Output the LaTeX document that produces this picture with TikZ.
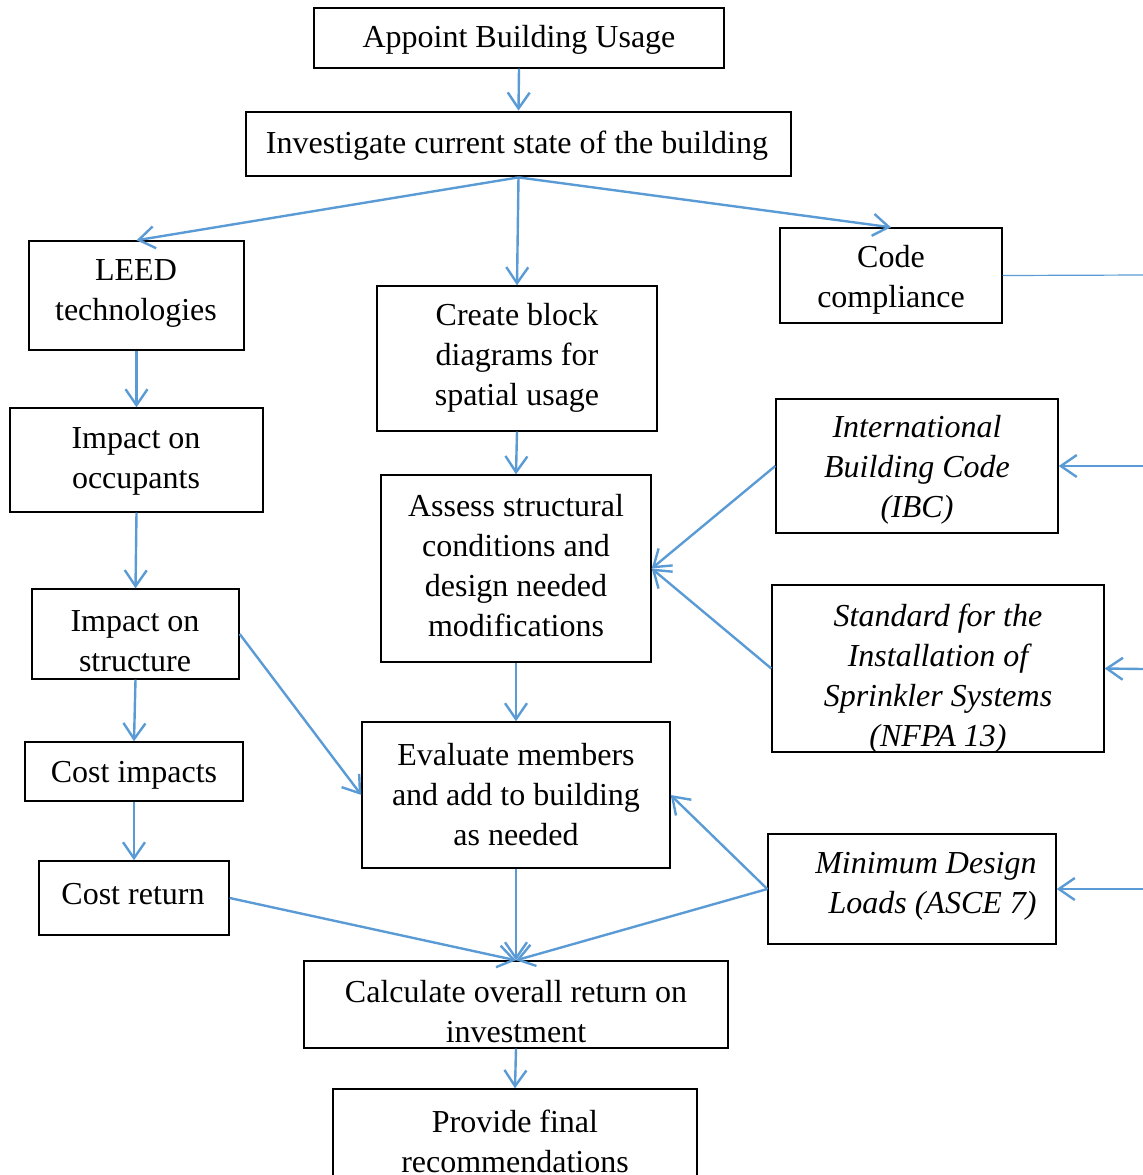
\documentclass[tikz,border=0pt]{standalone}
\usepackage{fontspec}
\setmainfont{Liberation Serif}
\usetikzlibrary{arrows.meta}
\definecolor{arrblue}{HTML}{5B9BD5}
\tikzset{
  box/.style={draw=black, line width=0.7pt, inner sep=0pt},
  txt/.style={inner sep=0pt, align=center, font=\fontsize{16}{20}\selectfont},
  itxt/.style={txt, font=\fontsize{16}{20}\selectfont\itshape},
  arr/.style={draw=arrblue, line width=1.2pt, -{Straight Barb[length=8pt,width=11pt,line width=1.2pt]}},
  thinline/.style={draw=arrblue, line width=0.6pt}
}
\begin{document}
\begin{tikzpicture}[x=0.5pt,y=-0.5pt]
\useasboundingbox (0,0) rectangle (1143,1175);
\clip (0,0) rectangle (1143,1175);
% boxes
\node[box, minimum width=205pt, minimum height=30pt] (appoint) at (519,38) {};
\node[box, line width=1.4pt, minimum width=272.5pt, minimum height=32pt] (invest) at (518.5,144) {};
\node[box, minimum width=107.5pt, minimum height=54.5pt] (leed) at (136.5,295.5) {};
\node[box, minimum width=140pt, minimum height=72.5pt] (block) at (517,358.5) {};
\node[box, minimum width=111pt, minimum height=47.5pt] (code) at (891,275.5) {};
\node[box, minimum width=126.5pt, minimum height=52pt] (occ) at (136.5,460) {};
\node[box, minimum width=141pt, minimum height=67pt] (ibc) at (917,466) {};
\node[box, minimum width=135pt, minimum height=93.5pt] (assess) at (516,568.5) {};
\node[box, minimum width=103.5pt, minimum height=45pt] (struct) at (135.5,634) {};
\node[box, minimum width=166pt, minimum height=83.5pt] (nfpa) at (938,668.5) {};
\node[box, minimum width=109pt, minimum height=29.5pt] (costimp) at (134,771.5) {};
\node[box, minimum width=154pt, minimum height=73pt] (eval) at (516,795) {};
\node[box, minimum width=95pt, minimum height=37pt] (costret) at (134,898) {};
\node[box, minimum width=144pt, minimum height=55pt] (asce) at (912,889) {};
\node[box, minimum width=212pt, minimum height=43.5pt] (calc) at (516,1004.5) {};
\node[box, minimum width=182pt, minimum height=50pt] (final) at (515,1139) {};
% texts
\node[txt] (t-appoint) at (519,40) {Appoint Building Usage};
\node[txt] (t-invest) at (517,146) {Investigate current state of the building};
\node[txt] (t-leed) at (136,293) {LEED\\technologies};
\node[txt] (t-block) at (517,358) {Create block\\diagrams for\\spatial usage};
\node[txt] (t-code) at (891,280) {Code\\compliance};
\node[txt] (t-occ) at (136,461) {Impact on\\occupants};
\node[itxt] (t-ibc) at (917,470) {International\\Building Code\\(IBC)};
\node[txt] (t-assess) at (516,566) {Assess structural\\conditions and\\design needed\\modifications};
\node[txt] (t-struct) at (135,641) {Impact on\\structure};
\begin{scope}
\clip (772,585) rectangle (1104,752);
\node[itxt] (t-nfpa) at (938,679) {Standard for the\\Installation of\\Sprinkler Systems\\(NFPA 13)};
\end{scope}
\node[txt] (t-costimp) at (134,775) {Cost impacts};
\node[txt] (t-eval) at (516,795) {Evaluate members\\and add to building\\as needed};
\node[txt] (t-costret) at (133,894) {Cost return};
\node[itxt, align=right, anchor=east] (t-asce) at (1037,886) {Minimum Design\\Loads (ASCE 7)};
\node[txt] (t-calc) at (516,1012) {Calculate overall return on\\investment};
\node[txt] (t-final) at (515,1141) {Provide final\\recommendations};
% free ends
\coordinate (r-code) at (1143,275);
\coordinate (r-ibc) at (1143,466);
\coordinate (r-nfpa) at (1143,669);
\coordinate (r-asce) at (1143,889);
% connectors
\draw[arr] (appoint.south) -- (invest.north);
\draw[arr] (invest.south) -- (leed.north);
\draw[arr] (invest.south) -- (block.north);
\draw[arr] (invest.south) -- (code.north);
\draw[arr] (leed.south) -- (occ.north);
\draw[arr] (occ.south) -- (struct.north);
\draw[arr] (struct.south) -- (costimp.north);
\draw[arr] (costimp.south) -- (costret.north);
\draw[arr] (struct.east) -- (eval.west);
\draw[arr] (block.south) -- (assess.north);
\draw[arr] (ibc.west) -- (assess.east);
\draw[arr] (nfpa.west) -- (assess.east);
\draw[arr] (assess.south) -- (eval.north);
\draw[arr] (asce.west) -- (eval.east);
\draw[arr] (eval.south) -- (calc.north);
\draw[arr] (costret.east) -- (calc.north);
\draw[arr] (asce.west) -- (calc.north);
\draw[arr] (calc.south) -- (final.north);
\draw[thinline] (code.east) -- (r-code);
\draw[arr] (r-ibc) -- (ibc.east);
\draw[arr] (r-nfpa) -- (nfpa.east);
\draw[arr] (r-asce) -- (asce.east);
\end{tikzpicture}
\end{document}
